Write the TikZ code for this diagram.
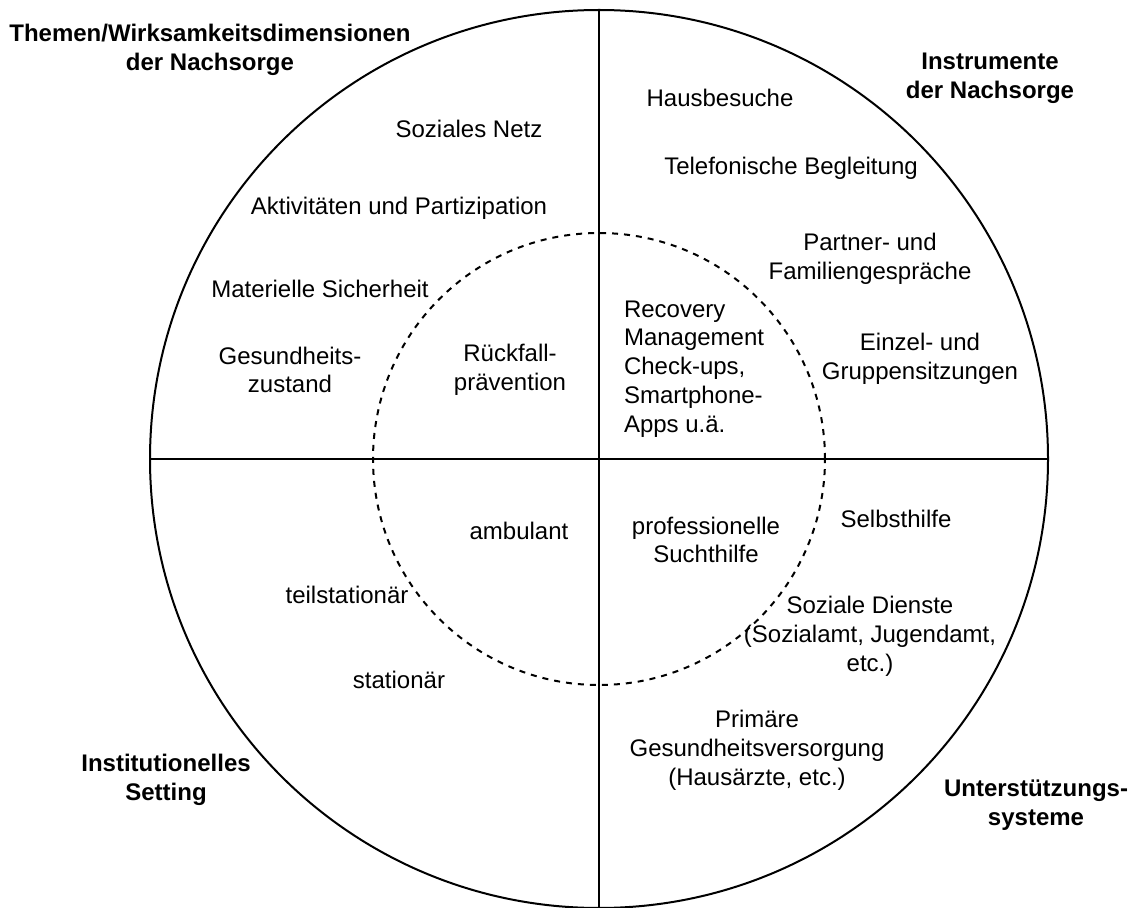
\documentclass[tikz,border=0pt]{standalone}
\usepackage{fontspec}
\setmainfont{Liberation Sans}
\begin{document}
\begin{tikzpicture}[x=0.5pt,y=-0.5pt, line width=1pt,
		lbl/.style={align=center, inner sep=0pt, font=\fontsize{12pt}{14.4pt}\selectfont},
		head/.style={lbl, font=\fontsize{12pt}{14.4pt}\selectfont\bfseries}]
		    	\useasboundingbox (0,0) rectangle (1134,908);
		    	\node[draw,shape=circle, minimum size=449pt, inner sep=0pt] (KA) at (599,459) {};
		    	\node[draw,shape=circle, dash pattern=on 3pt off 3pt, minimum size=226pt, inner sep=0pt] (KI) at (599,459) {};
		    	
		    	\draw (KA.north)--(KA.south);
		    	\draw (KA.west)--(KA.east);
		    	
		    	\node[head] (HA) at (210,50) {Themen/Wirksamkeitsdimensionen\\der Nachsorge};
		    	\node[head] (HB) at (990,78) {Instrumente\\der Nachsorge};
		    	\node[head] (HC) at (166,780) {Institutionelles\\Setting};
		    	\node[head] (HD) at (1036,805) {Unterstützungs-\\systeme};
		    	
		    	\node[lbl] (TA) at (469,129) {Soziales Netz};
		    	\node[lbl] (TB) at (399,208) {Aktivitäten und Partizipation};
		    	\node[lbl] (TC) at (320,289) {Materielle Sicherheit};
		    	\node[lbl] (TD) at (290,370) {Gesundheits-\\zustand};
		    	\node[lbl] (TE) at (510,370) {Rückfall-\\prävention};
		    	
		    	\node[lbl] (IA) at (720,98) {Hausbesuche};
		    	\node[lbl] (IB) at (791,168) {Telefonische Begleitung};
		    	\node[lbl] (IC) at (870,259) {Partner- und\\Familiengespräche};
		    	\node[lbl, align=left, anchor=west] (ID) at (623,369) {Recovery\\Management\\Check-ups,\\Smartphone-\\Apps u.ä.};
		    	\node[lbl] (IE) at (920,359) {Einzel- und\\Gruppensitzungen};
		    	
		    	\node[lbl] (SA) at (519,531) {ambulant};
		    	\node[lbl] (SB) at (347,595) {teilstationär};
		    	\node[lbl] (SC) at (399,680) {stationär};
		    	
		    	\node[lbl] (UA) at (706,540) {professionelle\\Suchthilfe};
		    	\node[lbl] (UB) at (896,519) {Selbsthilfe};
		    	\node[lbl] (UC) at (870,636) {Soziale Dienste\\(Sozialamt, Jugendamt,\\etc.)};
		    	\node[lbl] (UD) at (757,750) {Primäre\\Gesundheitsversorgung\\(Hausärzte, etc.)};
		    \end{tikzpicture}
\end{document}
